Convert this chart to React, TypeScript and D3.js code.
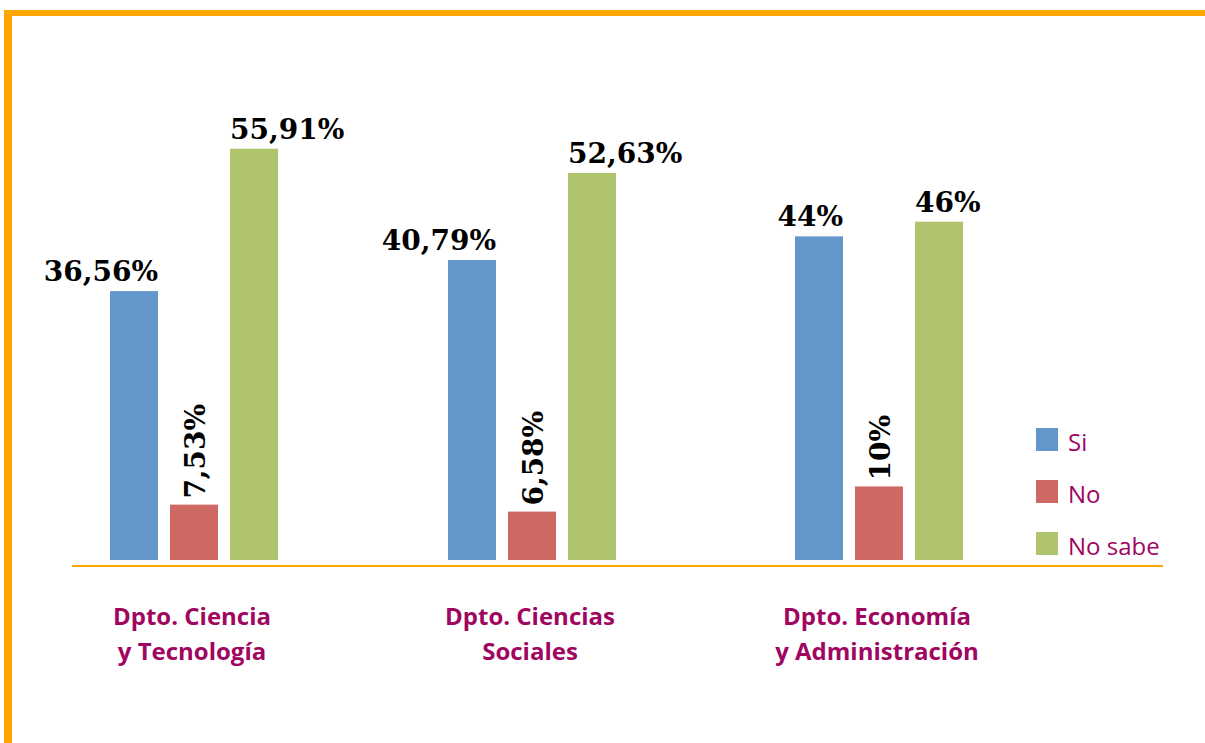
import React from "react";
import * as d3 from "d3";

const categories = [
  ["Dpto. Ciencia", "y Tecnología"],
  ["Dpto. Ciencias", "Sociales"],
  ["Dpto. Economía", "y Administración"],
];
const series = ["Si", "No", "No sabe"];
const siValues = [36.56, 40.79, 44];
const noValues = [7.53, 6.58, 10];
const noSabeValues = [55.91, 52.63, 46];
const valueLabels = [
  ["36,56%", "40,79%", "44%"],
  ["7,53%", "6,58%", "10%"],
  ["55,91%", "52,63%", "46%"],
];
const colors = ["#6396CA", "#CD6862", "#AFC46C"];

const W = 1205;
const H = 743;
const magenta = "#A0065F";
const orange = "#FFA500";
const sans = "'Open Sans', Lato, sans-serif";
const serif = "'DejaVu Serif', serif";

export default function App() {
  const values = [siValues, noValues, noSabeValues];
  const centers = [194, 532, 879];
  const y = d3.scaleLinear().domain([0, 60]).range([560, 560 - 7.355 * 60]);
  const barW = 48;
  const step = 60;

  return (
    <svg width={W} height={H} style={{ position: "absolute", left: 0, top: 0, background: "#fff" }}>
      <rect x={0} y={0} width={W} height={H} fill="#fff" />
      <rect x={4} y={10} width={W - 4} height={6} fill={orange} />
      <rect x={4} y={10} width={8} height={H - 10} fill={orange} />
      {categories.map((cat, ci) =>
        series.map((s, si) => {
          const v = values[si][ci];
          const cx = centers[ci] + (si - 1) * step;
          const top = y(v);
          const common = {
            fontFamily: serif,
            fontWeight: "bold" as const,
            fontSize: 28,
            fill: "#000",
          };
          let label;
          if (si === 1) {
            label = (
              <text transform={`translate(${cx + 11},${top - 6}) rotate(-90)`} {...common}>
                {valueLabels[si][ci]}
              </text>
            );
          } else if (si === 0) {
            label = (
              <text x={cx + barW / 2} y={top - 10} textAnchor="end" {...common}>
                {valueLabels[si][ci]}
              </text>
            );
          } else {
            label = (
              <text x={cx - barW / 2} y={top - 10} textAnchor="start" {...common}>
                {valueLabels[si][ci]}
              </text>
            );
          }
          return (
            <g key={`${ci}-${si}`}>
              <rect x={cx - barW / 2} y={top} width={barW} height={y(0) - top} fill={colors[si]} />
              {label}
            </g>
          );
        })
      )}
      <line x1={72} x2={1163} y1={566} y2={566} stroke={orange} strokeWidth={2} />
      {categories.map((cat, ci) => (
        <text key={ci} textAnchor="middle" fontFamily={sans} fontWeight="bold" fontSize={24} fill={magenta}>
          <tspan x={centers[ci] - 2} y={625}>{cat[0]}</tspan>
          <tspan x={centers[ci] - 2} y={660}>{cat[1]}</tspan>
        </text>
      ))}
      {series.map((s, si) => (
        <g key={s}>
          <rect x={1036} y={428 + si * 52} width={22} height={23} fill={colors[si]} />
          <text x={1068} y={451 + si * 52} fontFamily={sans} fontSize={24} fill={magenta}>
            {s}
          </text>
        </g>
      ))}
    </svg>
  );
}
